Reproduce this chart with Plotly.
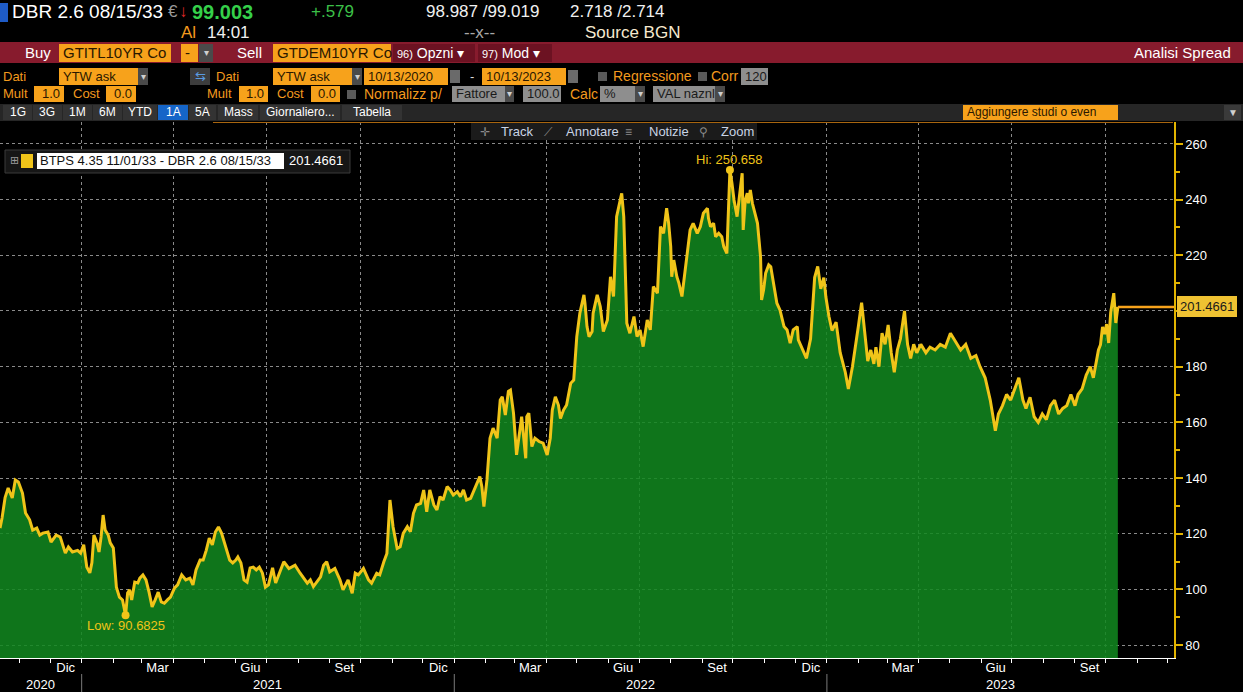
import plotly.graph_objects as go
import pandas as pd

# ---------------- data ----------------
dates = [
    "2020-10-13","2020-10-15","2020-10-18","2020-10-21","2020-10-25","2020-10-28","2020-10-31","2020-11-04",
    "2020-11-07","2020-11-11","2020-11-14","2020-11-18","2020-11-21","2020-11-24","2020-11-29","2020-12-02",
    "2020-12-07","2020-12-11","2020-12-16","2020-12-19","2020-12-23","2020-12-28","2020-12-31","2021-01-03",
    "2021-01-06","2021-01-09","2021-01-11","2021-01-13","2021-01-16","2021-01-18","2021-01-20","2021-01-22",
    "2021-01-24","2021-01-27","2021-01-29","2021-02-01","2021-02-04","2021-02-07","2021-02-10","2021-02-13",
    "2021-02-15","2021-02-17","2021-02-19","2021-02-22","2021-02-25","2021-02-27","2021-03-02","2021-03-05",
    "2021-03-08","2021-03-11","2021-03-14","2021-03-17","2021-03-20","2021-03-23","2021-03-26","2021-03-29",
    "2021-04-02","2021-04-05","2021-04-09","2021-04-13","2021-04-17","2021-04-20","2021-04-23","2021-04-27",
    "2021-04-30","2021-05-03","2021-05-06","2021-05-09","2021-05-12","2021-05-15","2021-05-18","2021-05-21",
    "2021-05-23","2021-05-26","2021-05-29","2021-06-01","2021-06-03","2021-06-06","2021-06-09","2021-06-12",
    "2021-06-15","2021-06-18","2021-06-21","2021-06-24","2021-06-27","2021-06-30","2021-07-03","2021-07-07",
    "2021-07-10","2021-07-14","2021-07-18","2021-07-23","2021-07-29","2021-08-03","2021-08-10","2021-08-13",
    "2021-08-16","2021-08-23","2021-08-26","2021-08-29","2021-09-01","2021-09-06","2021-09-11","2021-09-14",
    "2021-09-19","2021-09-23","2021-09-26","2021-09-29","2021-10-04","2021-10-09","2021-10-12","2021-10-17",
    "2021-10-20","2021-10-24","2021-10-27","2021-10-30","2021-11-02","2021-11-06","2021-11-09","2021-11-12",
    "2021-11-16","2021-11-19","2021-11-22","2021-11-25","2021-11-29","2021-12-02","2021-12-05","2021-12-08",
    "2021-12-12","2021-12-15","2021-12-18","2021-12-21","2021-12-25","2021-12-28","2021-12-31","2022-01-04",
    "2022-01-07","2022-01-10","2022-01-13","2022-01-17","2022-01-20","2022-01-23","2022-01-26","2022-01-28",
    "2022-01-30","2022-02-02","2022-02-05","2022-02-08","2022-02-12","2022-02-15","2022-02-17","2022-02-20",
    "2022-02-23","2022-02-25","2022-02-28","2022-03-03","2022-03-07","2022-03-08","2022-03-12","2022-03-13",
    "2022-03-15","2022-03-18","2022-03-21","2022-03-25","2022-03-29","2022-04-02","2022-04-05","2022-04-07",
    "2022-04-10","2022-04-13","2022-04-15","2022-04-18","2022-04-21","2022-04-25","2022-04-28","2022-05-01",
    "2022-05-04","2022-05-08","2022-05-09","2022-05-11","2022-05-13","2022-05-16","2022-05-17","2022-05-21",
    "2022-05-24","2022-05-27","2022-05-31","2022-06-03","2022-06-04","2022-06-06","2022-06-09","2022-06-13",
    "2022-06-14","2022-06-16","2022-06-18","2022-06-19","2022-06-22","2022-06-26","2022-06-29","2022-07-02",
    "2022-07-05","2022-07-09","2022-07-12","2022-07-15","2022-07-19","2022-07-22","2022-07-25","2022-07-28",
    "2022-07-30","2022-08-01","2022-08-02","2022-08-04","2022-08-07","2022-08-09","2022-08-12","2022-08-14",
    "2022-08-17","2022-08-20","2022-08-23","2022-08-27","2022-08-30","2022-09-02","2022-09-06","2022-09-07",
    "2022-09-09","2022-09-12","2022-09-14","2022-09-17","2022-09-20","2022-09-22","2022-09-25","2022-09-27",
    "2022-09-28","2022-09-30","2022-10-02","2022-10-05","2022-10-07","2022-10-10","2022-10-11","2022-10-13",
    "2022-10-15","2022-10-16","2022-10-18","2022-10-20","2022-10-25","2022-10-28","2022-10-29","2022-10-31",
    "2022-11-02","2022-11-05","2022-11-07","2022-11-10","2022-11-13","2022-11-16","2022-11-20","2022-11-23",
    "2022-11-26","2022-11-29","2022-12-03","2022-12-04","2022-12-06","2022-12-12","2022-12-16","2022-12-20",
    "2022-12-23","2022-12-26","2022-12-29","2022-12-31","2023-01-03","2023-01-06","2023-01-10","2023-01-14",
    "2023-01-19","2023-01-22","2023-01-26","2023-01-29","2023-02-01","2023-02-04","2023-02-07","2023-02-10",
    "2023-02-13","2023-02-16","2023-02-18","2023-02-21","2023-02-24","2023-02-27","2023-03-02","2023-03-05",
    "2023-03-08","2023-03-11","2023-03-14","2023-03-18","2023-03-21","2023-03-24","2023-03-27","2023-03-30",
    "2023-04-03","2023-04-08","2023-04-12","2023-04-17","2023-04-22","2023-04-27","2023-05-02","2023-05-07",
    "2023-05-12","2023-05-17","2023-05-22","2023-05-27","2023-05-31","2023-06-05","2023-06-10","2023-06-15",
    "2023-06-18","2023-06-22","2023-06-26","2023-06-30","2023-07-04","2023-07-08","2023-07-12","2023-07-15",
    "2023-07-19","2023-07-23","2023-07-27","2023-07-31","2023-08-04","2023-08-08","2023-08-12","2023-08-16",
    "2023-08-20","2023-08-24","2023-08-28","2023-09-01","2023-09-04","2023-09-08","2023-09-12","2023-09-16",
    "2023-09-19","2023-09-22","2023-09-24","2023-09-26","2023-09-28","2023-09-30","2023-10-02","2023-10-04",
    "2023-10-06","2023-10-09","2023-10-11","2023-10-13",
]
spread = [
    122.0,125.6,133.0,136.4,132.8,139.3,138.6,134.6,
    127.4,125.0,121.3,122.0,119.5,120.2,120.6,117.0,
    119.5,118.8,113.0,115.2,113.4,114.0,113.0,116.0,
    108.0,105.9,109.5,119.5,116.7,113.4,118.8,126.7,
    121.3,119.5,116.7,114.9,100.8,97.2,96.2,90.6825,
    98.7,99.8,96.2,102.6,102.3,104.0,105.2,103.4,
    99.0,93.7,96.2,99.0,95.5,95.0,96.2,97.2,
    100.5,101.6,105.2,103.4,104.0,101.6,107.0,110.5,
    110.5,114.0,118.4,116.0,120.6,122.4,120.2,116.7,
    114.0,110.5,109.5,110.5,111.6,109.5,103.4,102.6,
    107.7,108.0,107.0,108.0,105.9,100.8,101.6,107.7,
    102.3,105.9,109.9,107.5,108.7,105.8,102.2,103.4,
    101.0,104.5,108.7,109.9,106.3,107.5,103.4,99.8,
    103.4,98.6,105.8,105.2,107.5,103.4,102.2,105.8,
    105.2,109.9,112.9,132.1,122.5,114.7,115.3,120.1,
    122.5,120.7,127.3,130.3,130.9,135.7,127.9,135.7,
    130.3,128.5,133.3,132.1,136.9,135.7,133.9,135.1,
    133.3,135.7,132.1,132.7,135.1,138.1,140.5,136.9,
    129.7,139.3,154.3,157.9,154.3,168.0,169.2,162.6,
    171.1,171.6,163.3,148.3,160.8,162.0,147.1,162.0,
    163.3,151.3,154.3,153.1,152.5,148.3,154.3,164.4,
    169.2,166.2,161.4,164.4,166.2,174.0,175.2,190.8,
    199.2,205.8,202.8,194.4,190.8,192.6,199.2,205.8,
    201.6,192.6,196.8,212.3,210.0,205.2,233.9,239.9,
    242.3,233.9,207.6,195.6,192.0,198.0,190.8,193.2,
    187.2,196.8,193.2,208.8,206.4,230.3,227.9,236.9,
    231.5,223.1,212.3,218.3,212.3,210.0,205.2,211.2,
    221.9,229.1,231.5,227.9,230.3,235.1,236.9,233.3,
    230.3,231.5,226.7,227.9,226.7,223.1,220.7,239.9,
    250.658,245.9,239.9,233.9,241.1,249.5,229.1,239.9,
    242.3,238.7,243.5,238.7,231.5,219.5,204.0,207.6,
    213.6,216.6,215.9,210.0,202.8,200.4,194.4,193.2,
    188.4,193.2,194.4,189.6,188.0,183.0,190.0,212.0,
    216.0,208.0,212.0,205.0,198.0,193.0,196.0,185.0,
    178.0,172.0,180.0,187.0,195.0,203.0,192.0,182.0,
    186.0,181.0,187.0,180.0,192.0,188.0,195.0,185.0,
    178.0,186.0,190.0,200.0,188.0,183.0,188.0,185.0,
    188.0,185.0,187.0,186.0,188.0,187.0,192.0,189.0,
    186.0,188.0,183.0,184.0,180.0,176.0,168.0,157.0,
    163.0,166.0,170.0,168.0,172.0,176.0,168.0,165.0,
    169.0,162.0,160.0,163.0,161.0,166.0,168.0,163.0,
    165.0,166.0,170.0,166.0,170.0,172.0,177.0,180.0,
    176.0,183.0,186.0,187.9,194.3,191.7,195.3,188.5,
    199.5,206.4,195.7,201.4661,
]

series_name = "BTPS 4.35 11/01/33 - DBR 2.6 08/15/33"
axis_start, axis_end = "2020-10-13", "2023-12-07"
y_ticks = [80, 100, 120, 140, 160, 180, 200, 220, 240, 260]
y_ticktext = ["80", "100", "120", "140", "160", "180", "", "220", "240", "260"]  # 200 hidden by the value tag
quarter_starts = ["2021-01-01", "2021-04-01", "2021-07-01", "2021-10-01",
                  "2022-01-01", "2022-04-01", "2022-07-01", "2022-10-01",
                  "2023-01-01", "2023-04-01", "2023-07-01", "2023-10-01"]
quarter_labels = ["Dic", "Mar", "Giu", "Set"] * 3
year_labels = ["2020", "2021", "2022", "2023"]
year_centers = ["2020-11-22", "2021-07-02", "2022-07-02", "2023-06-20"]
year_breaks = ["2021-01-01", "2022-01-01", "2023-01-01"]
month_starts = [d.strftime("%Y-%m-%d") for d in pd.date_range("2020-11-01", "2023-12-01", freq="MS")]

last_value = spread[-1]
hi_i = spread.index(max(spread))
lo_i = spread.index(min(spread))

# ---------------- geometry helpers (layout only) ----------------
W, H = 1243, 692
ML, MR, MT, MB = 0, 69, 122, 34
PW, PH = W - ML - MR, H - MT - MB
def fx(x): return (x - ML) / PW
def fy(y): return (H - MB - y) / PH

FONT = "Liberation Sans, Arial, sans-serif"
ORANGE_BOX = "#F7A21B"
ORANGE_TXT = "#F39A1E"
GRAY_BOX = "#8E8E8E"
YELLOW = "#F0C419"

shapes, annots = [], []
def rect(x0, y0, x1, y1, fill, line=None, lw=1):
    shapes.append(dict(type="rect", xref="paper", yref="paper", x0=fx(x0), x1=fx(x1),
                       y0=fy(y1), y1=fy(y0), fillcolor=fill, layer="above",
                       line=dict(color=line or fill, width=lw if line else 0)))
def vline(x, y0, y1, color, w=1, xref="paper", dash=None):
    shapes.append(dict(type="line", xref=xref, yref="paper",
                       x0=(x if xref != "paper" else fx(x)), x1=(x if xref != "paper" else fx(x)),
                       y0=fy(y0), y1=fy(y1), layer="above",
                       line=dict(color=color, width=w, dash=dash)))
def hline(x0, x1, y, color, w=1):
    shapes.append(dict(type="line", xref="paper", yref="paper", x0=fx(x0), x1=fx(x1),
                       y0=fy(y), y1=fy(y), layer="above", line=dict(color=color, width=w)))
def text(x, y, s, color="white", size=13, anchor="left", bold=False, bg=None, family=FONT):
    if bold:
        s = "<b>" + s + "</b>"
    annots.append(dict(xref="paper", yref="paper", x=fx(x), y=fy(y), text=s, showarrow=False,
                       xanchor=anchor, yanchor="middle", bgcolor=bg, borderpad=0,
                       font=dict(color=color, size=size, family=family)))
def obox(x0, x1, y0, y1, s, fill=ORANGE_BOX, color="#2a1800", size=13, anchor="left"):
    rect(x0, y0, x1, y1, fill)
    if anchor == "left":
        text(x0 + 3, (y0 + y1) / 2, s, color, size)
    else:
        text(x1 - 3, (y0 + y1) / 2, s, color, size, anchor="right")
def dd(x0, x1, y0, y1):
    rect(x0, y0, x1, y1, "#4a4a4a")
    text((x0 + x1) / 2, (y0 + y1) / 2, "▾", "#cfcfcf", 10, anchor="center")

# ---------------- header ----------------
rect(0, 3, 8, 22, "#1E5BC6")
text(11, 12, "DBR 2.6 08/15/33", "white", 19)
text(167, 12, "€", "#9a9a9a", 17)
text(178, 12, "↓", "#E02828", 17)
text(191, 12, "99.003", "#35D04A", 20, bold=True)
text(310, 12, "+.579", "#3CC048", 17)
text(425, 12, "98.987 /99.019", "#F0F0F0", 17)
text(569, 12, "2.718 /2.714", "#F0F0F0", 17)
text(180, 33, "Al", ORANGE_TXT, 17)
text(206, 33, "14:01", "#F0F0F0", 17)
text(463, 33, "--x--", "#A8A8A8", 17)
text(584, 33, "Source BGN", "#F6E9CF", 17)

rect(0, 42, W, 63, "#871B2D")
text(24, 53, "Buy", "white", 15)
obox(59, 171, 44, 62, "GTITL10YR Co", size=15)
obox(181, 198, 44, 62, "-", size=15)
dd(199, 213, 44, 62)
text(236, 53, "Sell", "white", 15)
obox(273, 391, 44, 62, "GTDEM10YR Co", size=15)
rect(393, 44, 475, 62, "#6C1222")
text(396, 53, "<span style='font-size:11px'>96)</span> Opzni ▾", "white", 14)
rect(478, 44, 552, 62, "#6C1222")
text(481, 53, "<span style='font-size:11px'>97)</span> Mod ▾", "white", 14)
text(1232, 53, "Analisi Spread", "white", 15, anchor="right")

# row 4
Y4 = 76
text(2, Y4, "Dati", ORANGE_TXT, 13)
obox(59, 138, 68, 85, "YTW ask")
dd(138, 148, 68, 85)
rect(190, 68, 210, 85, "#3d3d3d")
text(200, Y4, "⇆", "#5A9BE0", 13, anchor="center")
text(215, Y4, "Dati", ORANGE_TXT, 13)
obox(273, 352, 68, 85, "YTW ask")
dd(352, 362, 68, 85)
obox(364, 448, 68, 85, "10/13/2020")
rect(450, 70, 460, 83, "#6a6a6a")
text(469, Y4, "-", "#dddddd", 13)
obox(482, 566, 68, 85, "10/13/2023")
rect(568, 70, 578, 83, "#6a6a6a")
rect(598, 72, 607, 81, "#5a5a5a")
text(612, Y4, "Regressione", ORANGE_TXT, 14)
rect(698, 72, 707, 81, "#5a5a5a")
text(710, Y4, "Corr", ORANGE_TXT, 14)
obox(741, 768, 68, 85, "120", fill=GRAY_BOX, color="#1a1a1a")

# row 5
Y5 = 94
text(2, Y5, "Mult", ORANGE_TXT, 13)
obox(34, 64, 86, 102, "1.0", anchor="right")
text(72, Y5, "Cost", ORANGE_TXT, 13)
obox(106, 136, 86, 102, "0.0", anchor="right")
text(206, Y5, "Mult", ORANGE_TXT, 13)
obox(239, 268, 86, 102, "1.0", anchor="right")
text(276, Y5, "Cost", ORANGE_TXT, 13)
obox(311, 340, 86, 102, "0.0", anchor="right")
rect(347, 90, 356, 99, "#5a5a5a")
text(363, Y5, "Normalizz p/", ORANGE_TXT, 14)
obox(452, 505, 86, 102, "Fattore", fill=GRAY_BOX, color="#1a1a1a")
dd(505, 514, 86, 102)
obox(523, 561, 86, 102, "100.0", fill=GRAY_BOX, color="#1a1a1a")
text(569, Y5, "Calc", ORANGE_TXT, 14)
obox(600, 635, 86, 102, "%", fill=GRAY_BOX, color="#1a1a1a")
dd(635, 645, 86, 102)
obox(653, 715, 86, 102, "VAL naznl", fill=GRAY_BOX, color="#1a1a1a")
dd(715, 725, 86, 102)

# row 6 (buttons)
rect(0, 104, W, 121, "#262626")
buttons = [(3, 32, "1G"), (33, 62, "3G"), (63, 92, "1M"), (93, 122, "6M"), (123, 157, "YTD"),
           (158, 188, "1A"), (189, 216, "5A"), (218, 258, "Mass"), (260, 340, "Giornaliero..."),
           (342, 402, "Tabella")]
for x0, x1, s in buttons:
    rect(x0, 105, x1, 120, "#1565C8" if s == "1A" else "#333333")
    text((x0 + x1) / 2, 112.5, s, "white", 12, anchor="center")
obox(963, 1118, 105, 120, "Aggiungere studi o even", size=12)
rect(1224, 105, 1241, 120, "#3a3a3a")
text(1232.5, 112.5, "▼", "#d0d0d0", 10, anchor="center")
hline(213, 1173, 122.5, "#A8650F", 1)

# toolbar over the chart
rect(471, 123, 757, 140, "#1B1B1B")
for x, s in [(485, "✛"), (548, "⟋"), (628, "≡"), (703, "⚲")]:
    text(x, 131.5, s, "#8a8a8a", 12, anchor="center")
for x, s in [(500, "Track"), (565, "Annotare"), (648, "Notizie"), (720, "Zoom")]:
    text(x, 131.5, s, "#C9D4E6", 13)

# legend box
rect(5, 150, 350, 173, "#161616", line="#3a3a3a")
text(14, 161, "⊞", "#9a9a9a", 11, anchor="center", family="DejaVu Sans")
rect(21, 154, 33, 168, YELLOW)
rect(37, 153, 284, 169, "white")
text(39, 161, series_name, "#111111", 13)
text(288, 161, f"{last_value:.4f}", "white", 13)

# year separators / labels
for d in year_breaks:
    vline(d, 674, 692, "#7a7a7a", 1, xref="x")
for d, s in zip(year_centers, year_labels):
    annots.append(dict(xref="x", yref="paper", x=d, y=fy(684), text=s, showarrow=False,
                       xanchor="center", yanchor="middle", font=dict(color="white", size=13, family=FONT)))

# last value tag
annots.append(dict(xref="paper", yref="y", x=1, y=last_value, xshift=3, text=f"{last_value:.4f}",
                   showarrow=False, xanchor="left", yanchor="middle", bgcolor="#EFC232",
                   bordercolor="#EFC232", borderpad=2, font=dict(color="#1a1a1a", size=13, family=FONT)))
# hi / low labels
annots.append(dict(xref="x", yref="y", x=dates[hi_i], y=spread[hi_i], yshift=1, text=f"Hi: {spread[hi_i]:.3f}",
                   showarrow=False, xanchor="center", yanchor="bottom",
                   font=dict(color=YELLOW, size=13, family=FONT)))
annots.append(dict(xref="x", yref="y", x=dates[lo_i], y=spread[lo_i], yshift=-1, text=f"Low: {spread[lo_i]:.4f}",
                   showarrow=False, xanchor="center", yanchor="top",
                   font=dict(color=YELLOW, size=13, family=FONT)))

# ---------------- figure ----------------
fig = go.Figure()
fig.add_trace(go.Scatter(x=dates, y=spread, mode="lines", fill="tozeroy",
                         fillcolor="rgba(18,136,32,0.86)", line=dict(color=YELLOW, width=3),
                         hoverinfo="skip", showlegend=False))
fig.add_trace(go.Scatter(x=[dates[-1], axis_end], y=[last_value, last_value], mode="lines",
                         line=dict(color="#F7A31C", width=2.5), hoverinfo="skip", showlegend=False))
fig.add_trace(go.Scatter(x=[dates[hi_i], dates[lo_i]], y=[spread[hi_i], spread[lo_i]], mode="markers",
                         marker=dict(color=YELLOW, size=8), hoverinfo="skip", showlegend=False))

fig.update_layout(
    width=W, height=H, margin=dict(l=ML, r=MR, t=MT, b=MB, pad=0),
    paper_bgcolor="black", plot_bgcolor="black",
    font=dict(family=FONT, color="white", size=13),
    shapes=shapes, annotations=annots, showlegend=False,
)
fig.update_xaxes(
    type="date", range=[axis_start, axis_end], showline=True, linecolor="white", linewidth=1,
    tickmode="array", tickvals=quarter_starts, ticktext=quarter_labels, ticklabelshift=-16,
    ticklabelstandoff=-7,
    ticks="outside", ticklen=4, tickcolor="white", tickfont=dict(color="white", size=13, family=FONT),
    showgrid=True, gridcolor="#8a8a8a", griddash="3px,3px", gridwidth=1, zeroline=False,
    minor=dict(tickmode="array", tickvals=month_starts, ticks="outside", ticklen=4,
               tickcolor="white", showgrid=False),
)
fig.update_yaxes(
    side="right", range=[75.33, 267.9], tickmode="array", tickvals=y_ticks, ticktext=y_ticktext,
    showline=True, linecolor="#E2B400", linewidth=1.5, ticks="outside", ticklen=7, tickwidth=2,
    tickcolor="#E2B400", tickfont=dict(color="white", size=13, family=FONT),
    showgrid=True, gridcolor="#8a8a8a", griddash="3px,3px", gridwidth=1, zeroline=False,
    minor=dict(tickmode="array", tickvals=[90, 110, 130, 150, 170, 190, 210, 230, 250],
               ticks="outside", ticklen=4, tickcolor="#E2B400", showgrid=False),
)

fig.write_html("out.html", config={"displayModeBar": False})
